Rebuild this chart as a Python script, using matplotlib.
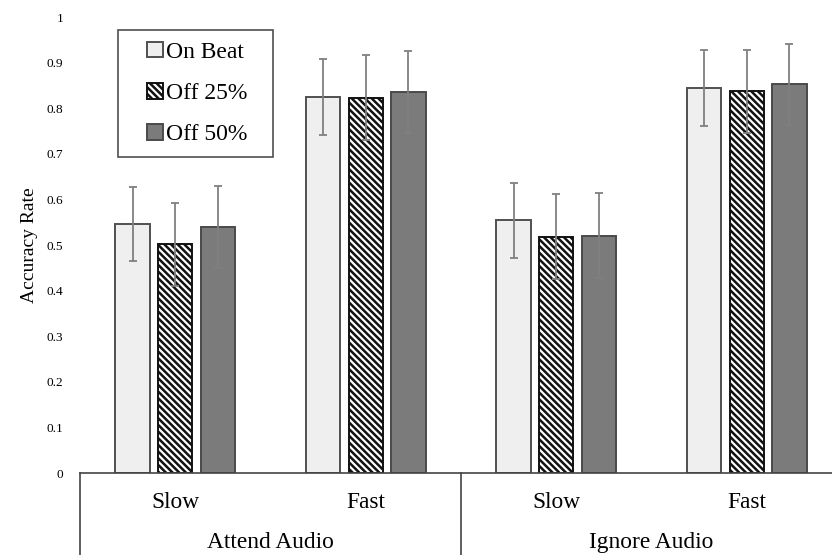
import numpy as np
import matplotlib
matplotlib.use("Agg")
import matplotlib.pyplot as plt
import matplotlib.patches as mpatches
import matplotlib.transforms as mtransforms
from matplotlib.legend_handler import HandlerPatch

# data
conditions = ["Slow", "Fast", "Slow", "Fast"]
groups = ["Attend Audio", "Ignore Audio"]
series = ["On Beat", "Off 25%", "Off 50%"]

on_beat = [0.546, 0.825, 0.554, 0.845]
off_25 = [0.502, 0.823, 0.518, 0.837]
off_50 = [0.540, 0.836, 0.520, 0.852]

on_beat_err = [0.082, 0.083, 0.082, 0.083]
off_25_err = [0.091, 0.093, 0.093, 0.091]
off_50_err = [0.090, 0.090, 0.093, 0.089]

y_ticks = [0, 0.1, 0.2, 0.3, 0.4, 0.5, 0.6, 0.7, 0.8, 0.9, 1]

plt.rcParams["font.family"] = ["Liberation Serif", "DejaVu Serif"]
plt.rcParams["hatch.linewidth"] = 1.8

fig = plt.figure(figsize=(8.32, 5.55), dpi=100)
W, H = 832, 555
ax = fig.add_axes([80 / W, 82 / H, 762 / W, 456 / H])

x = np.arange(len(conditions))
width = 0.18
step = 0.224

styles = [
    dict(color="#efefef", edgecolor="#505050", hatch=None),
    dict(color="white", edgecolor="#111111", hatch="\\\\\\\\\\"),
    dict(color="#7b7b7b", edgecolor="#4a4a4a", hatch=None),
]
values = [on_beat, off_25, off_50]
errors = [on_beat_err, off_25_err, off_50_err]

handles = []
for i, (vals, errs, st) in enumerate(zip(values, errors, styles)):
    pos = x + (i - 1) * step
    b = ax.bar(pos, vals, width, color=st["color"], edgecolor=st["edgecolor"],
               hatch=st["hatch"], linewidth=1.4, label=series[i], zorder=2)
    ax.errorbar(pos, vals, yerr=errs, fmt="none", ecolor="#808080",
                elinewidth=1.3, capsize=3, capthick=1.3, zorder=3)
    handles.append(b.patches[0])

ax.set_xlim(-0.5, 3.5)
ax.set_ylim(0, 1)
ax.set_yticks(y_ticks)
ax.set_yticklabels(["0"] + [f"{v:g}" for v in y_ticks[1:]], fontsize=9.5)
ax.tick_params(axis="y", length=0, pad=12)
ax.set_xticks([])
ax.set_ylabel("Accuracy Rate", fontsize=14, labelpad=6)

for s in ["top", "right", "left"]:
    ax.spines[s].set_visible(False)
ax.spines["bottom"].set_color("#444444")
ax.spines["bottom"].set_linewidth(1.2)

# category axis drawn below the plot
trans = mtransforms.blended_transform_factory(ax.transData, ax.transAxes)
for xs in [-0.5, 1.5]:
    ax.plot([xs, xs], [0, -0.2], transform=trans, color="#444444",
            lw=1.2, clip_on=False)
for xi, lab in zip(x, conditions):
    ax.text(xi, -0.064, lab, transform=trans, ha="center", va="center",
            fontsize=16.8)
for gi, g in enumerate(groups):
    ax.text(0.5 + 2 * gi, -0.152, g, transform=trans, ha="center",
            va="center", fontsize=16.8)


def small_square(legend, orig_handle, xdescent, ydescent, width, height, fontsize):
    s = height
    return mpatches.Rectangle((width - s - xdescent, -ydescent), s, s)


leg = ax.legend(handles=handles, labels=series, loc="upper left",
                bbox_to_anchor=(38 / 762, 0.7, 155 / 762, 0.2715), mode="expand",
                fontsize=17, frameon=True, fancybox=False, borderaxespad=0,
                handlelength=1.4, handleheight=0.64, handletextpad=0.13,
                labelspacing=0.85, borderpad=0.5,
                handler_map={mpatches.Rectangle: HandlerPatch(patch_func=small_square)})
leg.get_frame().set_edgecolor("#222222")
leg.get_frame().set_linewidth(1.2)

fig.savefig("out.png", dpi=100)
